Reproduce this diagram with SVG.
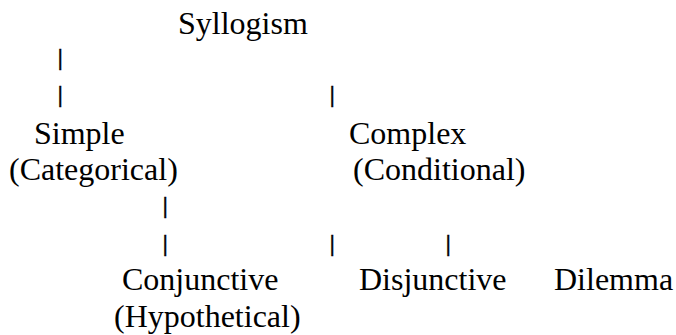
<svg xmlns="http://www.w3.org/2000/svg" width="676" height="335" viewBox="0 0 676 335">
<style>
.t{font-family:'Liberation Serif','Times New Roman',serif;font-size:32px;fill:#000}
.p{stroke:#000;stroke-width:0.4}
</style>
<rect width="676" height="335" fill="#fff"/>
<g id="connectors" class="t p" font-family="Liberation Serif, serif">
<text transform="translate(57,65) scale(1,0.69)">|</text>
<text transform="translate(57,102) scale(1,0.69)">|</text>
<text transform="translate(329,102) scale(1,0.69)">|</text>
<text transform="translate(162,213) scale(1,0.69)">|</text>
<text transform="translate(162,251) scale(1,0.69)">|</text>
<text transform="translate(329,251) scale(1,0.69)">|</text>
<text transform="translate(445,251) scale(1,0.69)">|</text>
</g>
<g id="syllogism" class="t" font-family="Liberation Serif, serif"><text x="178" y="34">Syllogism</text></g>
<g id="simple" class="t" font-family="Liberation Serif, serif"><text x="34" y="144">Simple</text><text x="9" y="180">(Categorical)</text></g>
<g id="complex" class="t" font-family="Liberation Serif, serif"><text x="349" y="144">Complex</text><text x="353" y="180">(Conditional)</text></g>
<g id="conjunctive" class="t" font-family="Liberation Serif, serif"><text x="122" y="290">Conjunctive</text><text x="114" y="327">(Hypothetical)</text></g>
<g id="disjunctive" class="t" font-family="Liberation Serif, serif"><text x="359" y="290">Disjunctive</text></g>
<g id="dilemma" class="t" font-family="Liberation Serif, serif"><text x="554" y="290">Dilemma</text></g>
</svg>
